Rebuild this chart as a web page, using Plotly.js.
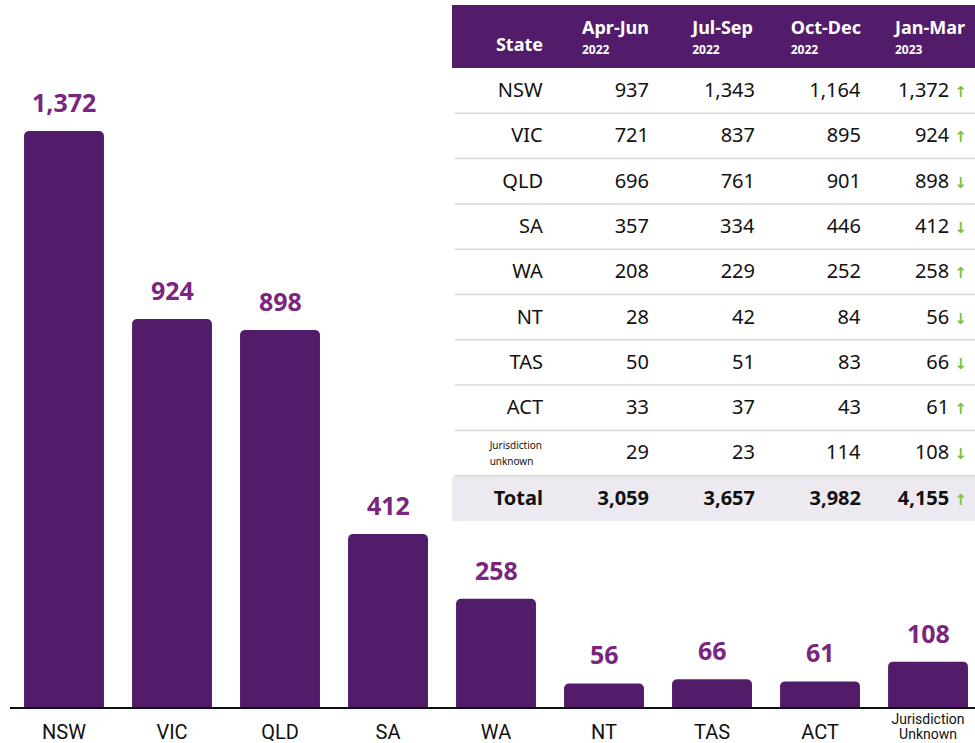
<!DOCTYPE html>
<html><head><meta charset="utf-8">
<script src="https://cdn.plot.ly/plotly-3.0.1.min.js"></script>
<style>html,body{margin:0;padding:0;background:#fff}#chart{width:975px;height:743px}</style>
</head><body><div id="chart"></div>
<script>
const states = ['NSW','VIC','QLD','SA','WA','NT','TAS','ACT','Jurisdiction Unknown'];
const tickLabels = ['NSW','VIC','QLD','SA','WA','NT','TAS','ACT','Jurisdiction<br>Unknown'];
const tableStates = ['NSW','VIC','QLD','SA','WA','NT','TAS','ACT','Jurisdiction<br>unknown'];
const quarters = ['Apr-Jun','Jul-Sep','Oct-Dec','Jan-Mar'];
const quarterYears = ['2022','2022','2022','2023'];
const aprJun2022 = [937,721,696,357,208,28,50,33,29];
const julSep2022 = [1343,837,761,334,229,42,51,37,23];
const octDec2022 = [1164,895,901,446,252,84,83,43,114];
const janMar2023 = [1372,924,898,412,258,56,66,61,108];

const PURPLE = '#531c6a', LABEL = '#7a2580', GREEN = '#7cc242', TOTALBG = '#eceaf0';
const fmt = v => v.toLocaleString('en-US');
const sum = a => a.reduce((p, n) => p + n, 0);
const series = [aprJun2022, julSep2022, octDec2022, janMar2023];
const totals = series.map(sum);
// inside table cells tags use a newline (rendered as a space) so the table's word wrapping never splits them
const span = (style, txt, sep) => '<span' + (sep || ' ') + 'style="' + style + '">' + txt + '</span>';
const arrow = (cur, prev) => '\u00a0' + span('color:' + GREEN + ';font-size:15px;font-family:DejaVu\nSans;font-weight:bold',
  cur >= prev ? '↑' : '↓', '\n');
const plain = t => '<span>' + t + '</span>';

const isJur = i => i === tableStates.length - 1;
const col0 = tableStates.map((s, i) => isJur(i)
  ? s.split('<br>').map(p => span('font-size:10px', p, '\n')).join('<br>')
  : plain(s)).concat(['<b>Total</b>']);
const colsQ = series.map((s, qi) => {
  const vals = s.map((v, i) => plain(fmt(v)) + (qi === 3 ? arrow(v, octDec2022[i]) : ''));
  vals.push('<b>' + fmt(totals[qi]) + '</b>' + (qi === 3 ? arrow(totals[3], totals[2]) : ''));
  return vals;
});
const headerVals = ['\u00a0<br>' + span('font-size:18px', 'State')].concat(
  quarters.map((q, i) => span('font-size:18px', q) + '<br>' + span('font-size:12px', quarterYears[i])));

const nRows = col0.length;
const col0Sizes = col0.map((_, i) => i === nRows - 2 ? 12 : 20);
const otherSizes = col0.map(() => 20);

const H = 707, fillTop = 5, headerH = 63, rowH = 45.3;
const textShift = 0, headerShift = 2;
const tableTop = fillTop + headerShift;
const tableHeaderH = headerH + textShift - headerShift;
const tableBottom = fillTop + headerH + textShift + rowH * nRows;
const py = px => 1 - px / H;
const X0 = 452 / 975;

const bars = {
  type: 'bar', x: states, y: janMar2023,
  marker: {color: PURPLE, cornerradius: 5},
  width: 0.74, hoverinfo: 'skip'
};

const table = {
  type: 'table',
  domain: {x: [X0, 1], y: [py(tableBottom), py(tableTop)]},
  columnwidth: [99, 106, 106, 106, 106],
  header: {
    values: headerVals,
    align: 'right', height: tableHeaderH,
    fill: {color: 'rgba(0,0,0,0)'},
    line: {color: 'rgba(0,0,0,0)', width: 0},
    font: {family: 'Noto Sans', size: 15, color: '#ffffff', weight: 'bold'}
  },
  cells: {
    values: [col0].concat(colsQ),
    align: 'right', height: rowH,
    fill: {color: 'rgba(0,0,0,0)'},
    line: {color: 'rgba(0,0,0,0)', width: 0},
    font: {family: 'Noto Sans', size: [col0Sizes, otherSizes, otherSizes, otherSizes, otherSizes], color: '#111111'}
  }
};

const shapes = [
  {type: 'rect', xref: 'paper', yref: 'paper', x0: X0, x1: 1, y0: py(fillTop + headerH), y1: py(fillTop),
   fillcolor: PURPLE, line: {width: 0}, layer: 'below'},
  {type: 'rect', xref: 'paper', yref: 'paper', x0: X0, x1: 1,
   y0: py(fillTop + headerH + rowH * nRows), y1: py(fillTop + headerH + rowH * (nRows - 1)),
   fillcolor: TOTALBG, line: {width: 0}, layer: 'below'}
];
for (let k = 1; k < nRows; k++) {
  const y = py(fillTop + headerH + rowH * k);
  shapes.push({type: 'line', xref: 'paper', yref: 'paper', x0: 455/975, x1: 1, y0: y, y1: y,
    line: {color: '#d9d9d9', width: 1.5}, layer: 'above'});
}

const annotations = states.map((s, i) => ({
  x: s, y: janMar2023[i], xref: 'x', yref: 'y', text: '<b>' + fmt(janMar2023[i]) + '</b>',
  showarrow: false, yanchor: 'middle', yshift: 29,
  font: {family: 'Noto Sans', size: 25, color: LABEL}
}));

const tickText = tickLabels.map(t => t.indexOf('<br>') >= 0
  ? t.split('<br>').map(p => span('font-size:14px', p)).join('<br>')
  : '\u00a0<br>' + span('font-size:20px', t));

const layout = {
  width: 975, height: 743,
  margin: {l: 0, r: 0, t: 0, b: 36},
  paper_bgcolor: '#ffffff', plot_bgcolor: 'rgba(0,0,0,0)',
  showlegend: false,
  xaxis: {
    domain: [10/975, 1], range: [-0.5, 8.435], type: 'category',
    tickvals: states, ticktext: tickText,
    showline: true, linecolor: '#111111', linewidth: 2,
    showgrid: false, zeroline: false, ticks: '', ticklabelstandoff: 2,
    tickfont: {family: 'Roboto', size: 11, color: '#111111'}
  },
  yaxis: {range: [0, 1684], visible: false, showgrid: false, zeroline: false},
  annotations: annotations,
  shapes: shapes
};

Plotly.newPlot('chart', [bars, table], layout, {displayModeBar: false, staticPlot: true});
</script></body></html>
